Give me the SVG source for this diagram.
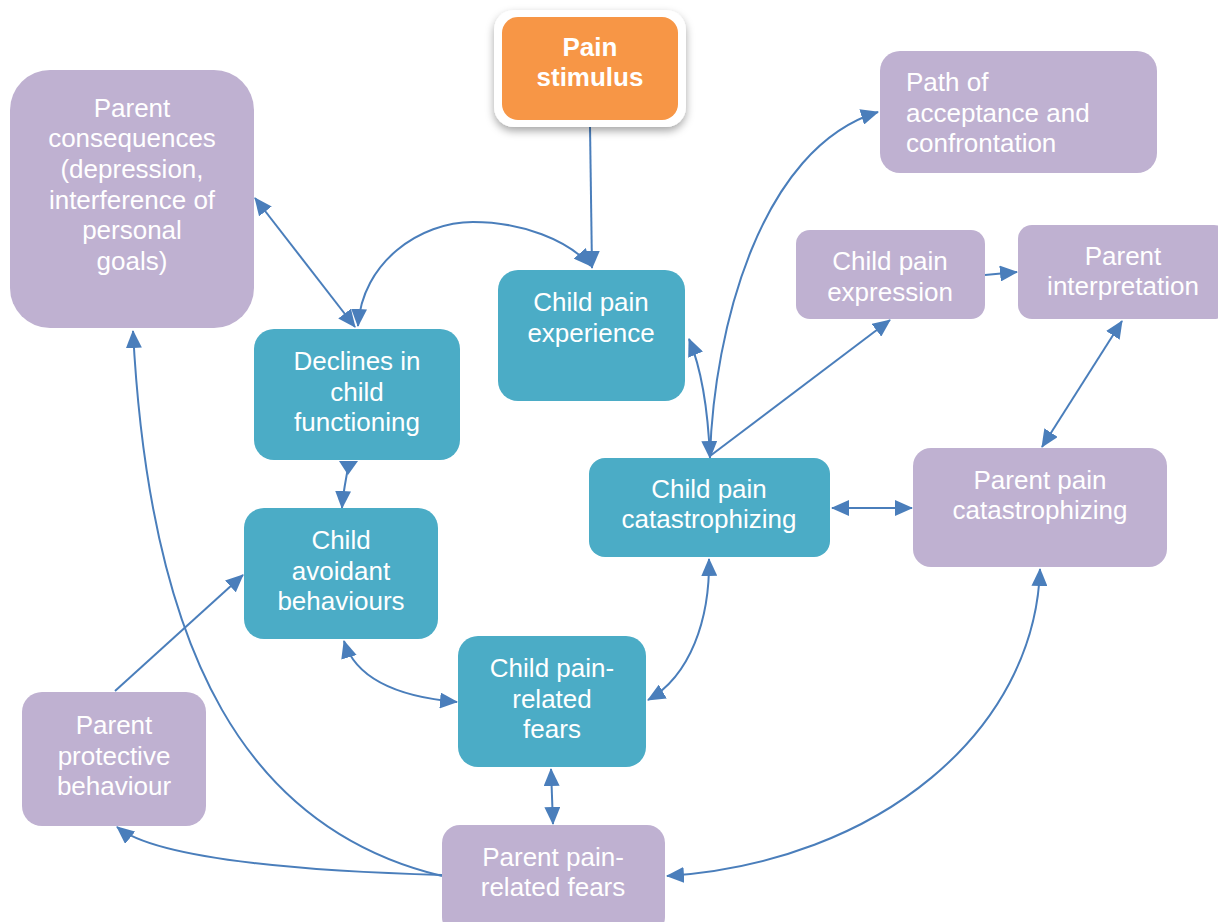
<svg xmlns="http://www.w3.org/2000/svg" width="1218" height="922" viewBox="0 0 1218 922">
  <style>
    .teal { fill: #4BACC6; }
    .lilac { fill: #BFB1D1; }
    .lbl { font-family: "Liberation Sans", Arial, sans-serif; font-size: 26px; fill: #FFFFFF; text-anchor: middle; }
    .lft { text-anchor: start; }
    .bold { font-weight: bold; }
    .conn { fill: none; stroke: #4A7EBB; stroke-width: 2; }
  </style>
  <defs>
    <marker id="arrow" viewBox="0 0 18 16" refX="17" refY="8" markerWidth="18" markerHeight="16" markerUnits="userSpaceOnUse" orient="auto-start-reverse">
      <path d="M0,0 L18,8 L0,16 Z" fill="#4A7EBB"/>
    </marker>
    <filter id="shadow" x="-20%" y="-20%" width="140%" height="150%">
      <feDropShadow dx="0" dy="4" stdDeviation="4" flood-color="#000000" flood-opacity="0.35"/>
    </filter>
  </defs>

  <rect width="1218" height="922" fill="#FFFFFF"/>

  <!-- connectors -->
  <g id="connectors">
    <!-- stimulus to experience -->
    <path class="conn" d="M590,126 L592,268" marker-end="url(#arrow)"/>
    <!-- declines <-> experience -->
    <path class="conn" d="M358,326 C362,262 420,222 473,222 C522,222 568,240 591,266" marker-start="url(#arrow)" marker-end="url(#arrow)"/>
    <!-- consequences <-> declines -->
    <path class="conn" d="M255,198 L355,327" marker-start="url(#arrow)" marker-end="url(#arrow)"/>
    <!-- declines <-> avoidant -->
    <path class="conn" d="M349,462 C346,480 343,492 342,508" marker-end="url(#arrow)"/>
    <path d="M339,461 L358,461 L348,475 Z" fill="#4A7EBB"/>
    <!-- experience <-> catastrophizing -->
    <path class="conn" d="M689,339 C702,370 708,410 710,458" marker-start="url(#arrow)" marker-end="url(#arrow)"/>
    <!-- catastrophizing to acceptance path -->
    <path class="conn" d="M710,456 C714,330 760,148 878,112" marker-end="url(#arrow)"/>
    <!-- catastrophizing to expression -->
    <path class="conn" d="M710,456 L890,320" marker-end="url(#arrow)"/>
    <!-- expression to interpretation -->
    <path class="conn" d="M985,275 L1017,272" marker-end="url(#arrow)"/>
    <!-- interpretation <-> parent catastrophizing -->
    <path class="conn" d="M1122,321 L1042,447" marker-start="url(#arrow)" marker-end="url(#arrow)"/>
    <!-- child catastrophizing <-> parent catastrophizing -->
    <path class="conn" d="M832,508 L912,508" marker-start="url(#arrow)" marker-end="url(#arrow)"/>
    <!-- child catastrophizing <-> child fears -->
    <path class="conn" d="M709,559 C710,620 690,676 648,700" marker-start="url(#arrow)" marker-end="url(#arrow)"/>
    <!-- parent catastrophizing <-> parent fears -->
    <path class="conn" d="M1040,569 C1035,730 880,862 667,876" marker-start="url(#arrow)" marker-end="url(#arrow)"/>
    <!-- avoidant <-> child fears -->
    <path class="conn" d="M344,641 C356,680 400,697 457,702" marker-start="url(#arrow)" marker-end="url(#arrow)"/>
    <!-- child fears <-> parent fears -->
    <path class="conn" d="M551,769 L553,824" marker-start="url(#arrow)" marker-end="url(#arrow)"/>
    <!-- parent fears to protective behaviour -->
    <path class="conn" d="M442,875 C330,872 160,862 117,827" marker-end="url(#arrow)"/>
    <!-- parent fears to consequences -->
    <path class="conn" d="M442,876 C250,830 150,660 133,331" marker-end="url(#arrow)"/>
    <!-- protective behaviour to avoidant -->
    <path class="conn" d="M115,691 L243,575" marker-end="url(#arrow)"/>
  </g>

  <g id="stimulus">
    <rect x="494" y="10" width="192" height="117" rx="20" fill="#FFFFFF" filter="url(#shadow)"/>
    <rect x="502" y="17" width="176" height="103" rx="16" fill="#F79646"/>
    <text class="lbl bold" x="590" y="56">Pain</text>
    <text class="lbl bold" x="590" y="86">stimulus</text>
  </g>

  <g id="parent-consequences">
    <rect class="lilac" x="10" y="70" width="244" height="258" rx="40"/>
    <text class="lbl" x="132" y="117">Parent</text>
    <text class="lbl" x="132" y="147">consequences</text>
    <text class="lbl" x="132" y="178">(depression,</text>
    <text class="lbl" x="132" y="209">interference of</text>
    <text class="lbl" x="132" y="239">personal</text>
    <text class="lbl" x="132" y="270">goals)</text>
  </g>

  <g id="acceptance-path">
    <rect class="lilac" x="880" y="51" width="277" height="122" rx="20"/>
    <text class="lbl lft" x="906" y="91">Path of</text>
    <text class="lbl lft" x="906" y="122">acceptance and</text>
    <text class="lbl lft" x="906" y="152">confrontation</text>
  </g>

  <g id="child-expression">
    <rect class="lilac" x="796" y="230" width="189" height="89" rx="14"/>
    <text class="lbl" x="890" y="270">Child pain</text>
    <text class="lbl" x="890" y="301">expression</text>
  </g>

  <g id="parent-interpretation">
    <rect class="lilac" x="1018" y="225" width="210" height="94" rx="14"/>
    <text class="lbl" x="1123" y="265">Parent</text>
    <text class="lbl" x="1123" y="295">interpretation</text>
  </g>

  <g id="child-experience">
    <rect class="teal" x="498" y="270" width="187" height="131" rx="20"/>
    <text class="lbl" x="591" y="311">Child pain</text>
    <text class="lbl" x="591" y="342">experience</text>
  </g>

  <g id="declines">
    <rect class="teal" x="254" y="329" width="206" height="131" rx="20"/>
    <text class="lbl" x="357" y="370">Declines in</text>
    <text class="lbl" x="357" y="401">child</text>
    <text class="lbl" x="357" y="431">functioning</text>
  </g>

  <g id="child-avoidant">
    <rect class="teal" x="244" y="508" width="194" height="131" rx="20"/>
    <text class="lbl" x="341" y="549">Child</text>
    <text class="lbl" x="341" y="580">avoidant</text>
    <text class="lbl" x="341" y="610">behaviours</text>
  </g>

  <g id="child-catastrophizing">
    <rect class="teal" x="589" y="458" width="241" height="99" rx="16"/>
    <text class="lbl" x="709" y="498">Child pain</text>
    <text class="lbl" x="709" y="528">catastrophizing</text>
  </g>

  <g id="parent-catastrophizing">
    <rect class="lilac" x="913" y="448" width="254" height="119" rx="18"/>
    <text class="lbl" x="1040" y="489">Parent pain</text>
    <text class="lbl" x="1040" y="519">catastrophizing</text>
  </g>

  <g id="child-fears">
    <rect class="teal" x="458" y="636" width="188" height="131" rx="20"/>
    <text class="lbl" x="552" y="677">Child pain-</text>
    <text class="lbl" x="552" y="708">related</text>
    <text class="lbl" x="552" y="738">fears</text>
  </g>

  <g id="parent-protective">
    <rect class="lilac" x="22" y="692" width="184" height="134" rx="20"/>
    <text class="lbl" x="114" y="734">Parent</text>
    <text class="lbl" x="114" y="765">protective</text>
    <text class="lbl" x="114" y="795">behaviour</text>
  </g>

  <g id="parent-fears">
    <rect class="lilac" x="442" y="825" width="223" height="110" rx="18"/>
    <text class="lbl" x="553" y="866">Parent pain-</text>
    <text class="lbl" x="553" y="896">related fears</text>
  </g>
</svg>
